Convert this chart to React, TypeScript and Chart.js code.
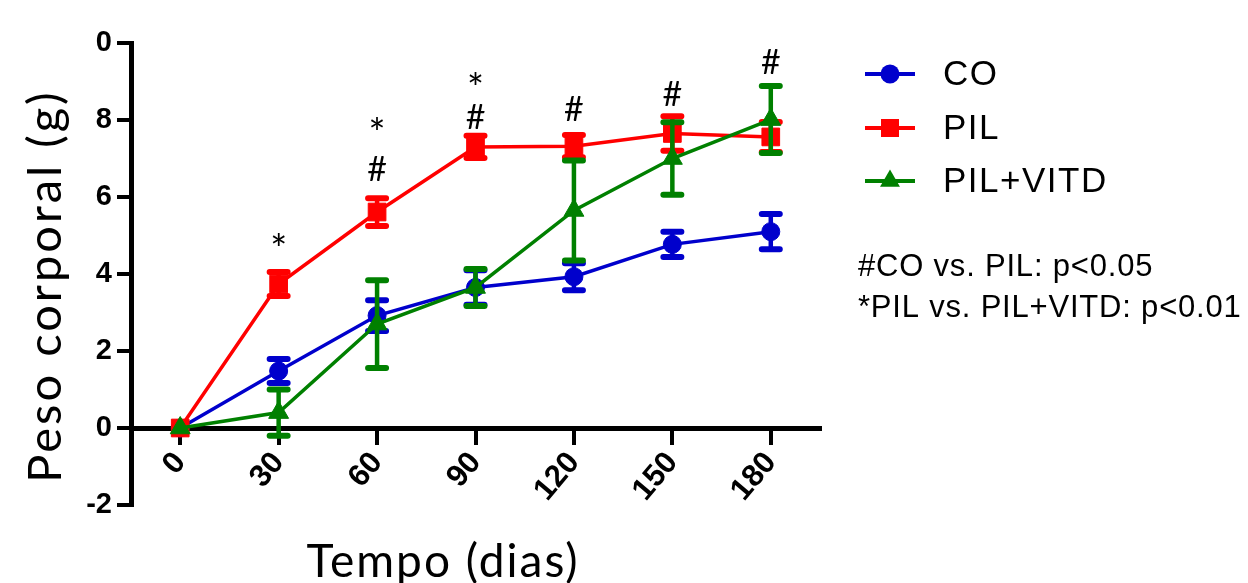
import React, { useEffect, useRef } from 'react';
import { Chart, registerables } from 'chart.js';

Chart.register(...registerables);

// ---------- data ----------
const days = [0, 30, 60, 90, 120, 150, 180];
const xTickValues = [0, 30, 60, 90, 120, 150, 180];
const yTickValues = [-2, 0, 2, 4, 6, 8, 10];
const yTickLabels = ['-2', '0', '2', '4', '6', '8', '0'];

const seriesNames = ['CO', 'PIL', 'PIL+VITD'];
const coMean = [0, 1.48, 2.92, 3.65, 3.93, 4.77, 5.1];
const coErr = [0, 0.31, 0.4, 0.45, 0.35, 0.33, 0.46];
const pilMean = [0, 3.74, 5.61, 7.3, 7.32, 7.65, 7.56];
const pilErr = [0, 0.31, 0.36, 0.29, 0.29, 0.45, 0.39];
const vitdMean = [0, 0.4, 2.7, 3.65, 5.65, 7.0, 8.01];
const vitdErr = [0, 0.6, 1.14, 0.48, 1.3, 0.94, 0.87];

const annotDays = [30, 60, 60, 90, 90, 120, 150, 180];
const annotY = [4.6, 6.69, 7.6, 8.05, 8.78, 8.26, 8.65, 9.48];
const annotText = ['*', '#', '*', '#', '*', '#', '#', '#'];

const noteLines = ['#CO vs. PIL: p<0.05', '*PIL vs. PIL+VITD: p<0.01'];
const xTitle = 'Tempo (dias)';
const yTitle = 'Peso corporal (g)';

const BLUE = '#0000CC';
const RED = '#FF0000';
const GREEN = '#008000';

const toPoints = (vals: number[]) => days.map((d, i) => ({ x: d, y: vals[i] }));

const errorBarPlugin = {
  id: 'errorBars',
  beforeDatasetDraw(chart: any, args: any) {
    const ds: any = chart.data.datasets[args.index];
    const errs: number[] = ds.errors || [];
    const xs = chart.scales.x;
    const ys = chart.scales.y;
    const ctx = chart.ctx;
    ctx.save();
    ctx.strokeStyle = ds.borderColor;
    ctx.lineCap = 'round';
    ds.data.forEach((p: any, i: number) => {
      const e = errs[i];
      if (!e) return;
      const px = xs.getPixelForValue(p.x);
      const top = ys.getPixelForValue(p.y + e);
      const bot = ys.getPixelForValue(p.y - e);
      ctx.lineWidth = 4.5;
      ctx.beginPath();
      ctx.moveTo(px, top);
      ctx.lineTo(px, bot);
      ctx.stroke();
      ctx.lineWidth = 6;
      ctx.beginPath();
      ctx.moveTo(px - 9, top);
      ctx.lineTo(px + 9, top);
      ctx.moveTo(px - 9, bot);
      ctx.lineTo(px + 9, bot);
      ctx.stroke();
    });
    ctx.restore();
  },
};

const annotationPlugin = {
  id: 'annots',
  afterDatasetsDraw(chart: any) {
    const ctx = chart.ctx;
    const xs = chart.scales.x;
    const ys = chart.scales.y;
    ctx.save();
    ctx.fillStyle = '#000';
    ctx.textAlign = 'center';
    ctx.textBaseline = 'middle';
    annotText.forEach((t, i) => {
      ctx.font = t === '*' ? '40px Lato' : '34px Lato';
      ctx.fillText(t, xs.getPixelForValue(annotDays[i]), ys.getPixelForValue(annotY[i]));
    });
    ctx.restore();
  },
};

function drawMarker(ctx: CanvasRenderingContext2D, style: string, x: number, y: number) {
  ctx.beginPath();
  if (style === 'circle') {
    ctx.arc(x, y, 9.5, 0, Math.PI * 2);
  } else if (style === 'rect') {
    ctx.rect(x - 9, y - 9, 18, 18);
  } else {
    const r = 11.5;
    ctx.moveTo(x, y - r);
    ctx.lineTo(x + r * Math.sin((2 * Math.PI) / 3), y + r / 2);
    ctx.lineTo(x - r * Math.sin((2 * Math.PI) / 3), y + r / 2);
    ctx.closePath();
  }
  ctx.fill();
}

const textPlugin = {
  id: 'texts',
  afterDraw(chart: any) {
    const ctx = chart.ctx as CanvasRenderingContext2D;
    const area = chart.chartArea;
    ctx.save();
    ctx.fillStyle = '#000';
    // axis titles
    ctx.textAlign = 'center';
    ctx.textBaseline = 'alphabetic';
    (ctx as any).letterSpacing = '2px';
    ctx.font = '46px Lato';
    ctx.fillText(xTitle, 443, 577);
    (ctx as any).letterSpacing = '3px';
    ctx.font = '47px Lato';
    ctx.save();
    ctx.translate(61, 286);
    ctx.rotate(-Math.PI / 2);
    ctx.fillText(yTitle, 0, 0);
    ctx.restore();

    // legend
    const lx = area.right + 45;
    const rowsY = [74, 128, 181];
    chart.data.datasets.forEach((ds: any, i: number) => {
      const y = rowsY[i];
      ctx.strokeStyle = ds.borderColor;
      ctx.fillStyle = ds.borderColor;
      ctx.lineWidth = 4;
      ctx.beginPath();
      ctx.moveTo(lx, y);
      ctx.lineTo(lx + 50, y);
      ctx.stroke();
      drawMarker(ctx, ds.pointStyle, lx + 25, y);
      ctx.fillStyle = '#000';
      (ctx as any).letterSpacing = '1.5px';
      ctx.font = '35px "Liberation Sans"';
      ctx.textAlign = 'left';
      ctx.textBaseline = 'middle';
      ctx.fillText(seriesNames[i], lx + 78, y + 1);
    });

    // notes
    (ctx as any).letterSpacing = '0.8px';
    ctx.font = '31px "Liberation Sans"';
    ctx.textAlign = 'left';
    ctx.textBaseline = 'middle';
    ctx.fillStyle = '#000';
    noteLines.forEach((t, i) => {
      ctx.fillText(t, area.right + 38, 267 + i * 41);
    });
    ctx.restore();
  },
};

export default function App() {
  const ref = useRef<HTMLCanvasElement | null>(null);

  useEffect(() => {
    if (!ref.current) return;
    Chart.defaults.font.family = '"Liberation Sans", Arial, sans-serif';
    const chart = new Chart(ref.current, {
      type: 'line',
      data: {
        datasets: [
          {
            label: seriesNames[0],
            data: toPoints(coMean),
            borderColor: BLUE,
            backgroundColor: BLUE,
            pointStyle: 'circle',
            pointRadius: 9,
            pointBorderWidth: 1,
            borderWidth: 3.5,
            order: 3,
            errors: coErr,
          } as any,
          {
            label: seriesNames[1],
            data: toPoints(pilMean),
            borderColor: RED,
            backgroundColor: RED,
            pointStyle: 'rect',
            pointRadius: 12.5,
            pointBorderWidth: 1,
            borderWidth: 3.5,
            order: 2,
            errors: pilErr,
          } as any,
          {
            label: seriesNames[2],
            data: toPoints(vitdMean),
            borderColor: GREEN,
            backgroundColor: GREEN,
            pointStyle: 'triangle',
            pointRadius: 11.5,
            pointBorderWidth: 1,
            borderWidth: 3.5,
            order: 1,
            errors: vitdErr,
          } as any,
        ],
      },
      options: {
        animation: false,
        responsive: false,
        clip: false as any,
        layout: { padding: { top: 43, right: 428, bottom: 78, left: 0 } },
        plugins: {
          legend: { display: false },
          tooltip: { enabled: false },
        },
        scales: {
          x: {
            type: 'linear',
            min: -15,
            max: 195,
            position: { y: 0 } as any,
            afterBuildTicks: (s: any) => {
              s.ticks = xTickValues.map((v) => ({ value: v }));
            },
            afterFit: (s: any) => {
              s.height = 0;
              s.paddingLeft = 0;
              s.paddingRight = 0;
              s.paddingTop = 0;
              s.paddingBottom = 0;
            },
            ticks: {
              autoSkip: false,
              minRotation: 50,
              maxRotation: 50,
              color: '#000',
              padding: 3,
              font: { size: 31, weight: 'bold' },
              callback: (v: any) => String(v),
            },
            grid: { drawOnChartArea: false, color: '#000', lineWidth: 4, tickLength: 14 },
            border: { color: '#000', width: 5 },
          },
          y: {
            type: 'linear',
            min: -2,
            max: 10,
            afterBuildTicks: (s: any) => {
              s.ticks = yTickValues.map((v) => ({ value: v }));
            },
            afterFit: (s: any) => {
              s.width = 131;
              s.paddingTop = 0;
              s.paddingBottom = 0;
              s.paddingLeft = 0;
              s.paddingRight = 0;
            },
            ticks: {
              color: '#000',
              padding: 5,
              font: { size: 29, weight: 'bold' },
              callback: (v: any) => yTickLabels[yTickValues.indexOf(Number(v))],
            },
            grid: { drawOnChartArea: false, color: '#000', lineWidth: 4, tickLength: 14 },
            border: { color: '#000', width: 5 },
          },
        },
      },
      plugins: [errorBarPlugin, annotationPlugin, textPlugin],
    });
    return () => chart.destroy();
  }, []);

  return (
    <div style={{ position: 'fixed', left: 0, top: 0, width: 1248, height: 583, background: '#fff' }}>
      <canvas ref={ref} width={1248} height={583} style={{ display: 'block' }} />
    </div>
  );
}
